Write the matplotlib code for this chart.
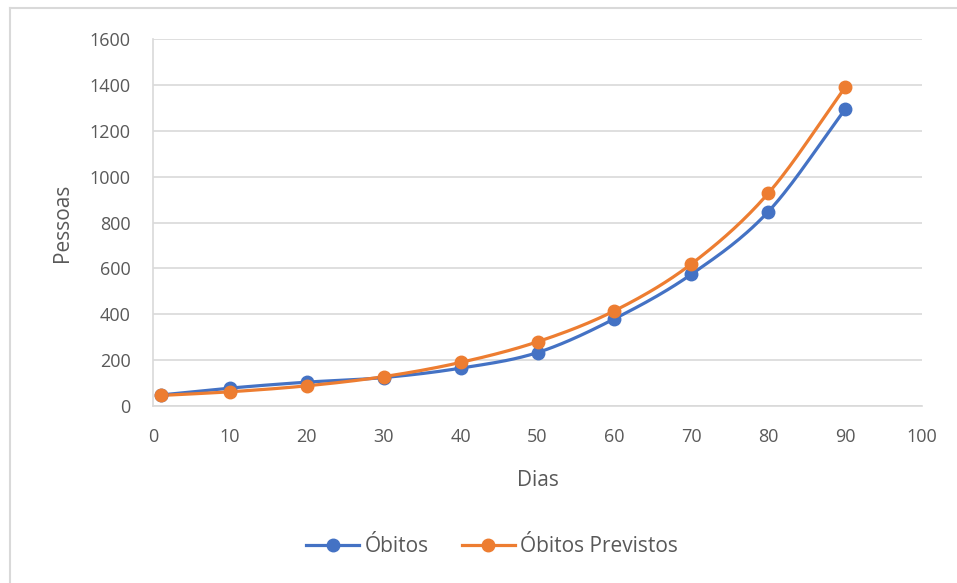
import numpy as np
import matplotlib
matplotlib.use('Agg')
import matplotlib.pyplot as plt
from matplotlib.lines import Line2D

dias = [1, 10, 20, 30, 40, 50, 60, 70, 80, 90]
obitos = [48, 78, 104, 124, 165, 233, 380, 574, 847, 1293]
obitos_previstos = [46, 62, 88, 128, 190, 280, 415, 619, 927, 1389]

x_ticks = list(range(0, 101, 10))
y_ticks = list(range(0, 1601, 200))

BLUE = '#4472C4'
ORANGE = '#ED7D31'
GRID = '#D9D9D9'
TEXT = '#595959'

plt.rcParams['font.family'] = ['Open Sans', 'DejaVu Sans']


def smooth(x, y, n=30):
    # Catmull-Rom style curve through the points, like a spreadsheet "smoothed line"
    x = np.asarray(x, float)
    y = np.asarray(y, float)
    px = np.concatenate([[2 * x[0] - x[1]], x, [2 * x[-1] - x[-2]]])
    py = np.concatenate([[2 * y[0] - y[1]], y, [2 * y[-1] - y[-2]]])
    xs, ys = [], []
    t = np.linspace(0, 1, n)
    for i in range(1, len(px) - 2):
        for arr, out in ((px, xs), (py, ys)):
            p0, p1, p2, p3 = arr[i - 1], arr[i], arr[i + 1], arr[i + 2]
            seg = 0.5 * ((2 * p1) + (-p0 + p2) * t + (2 * p0 - 5 * p1 + 4 * p2 - p3) * t ** 2
                         + (-p0 + 3 * p1 - 3 * p2 + p3) * t ** 3)
            out.extend(seg)
    return np.array(xs), np.array(ys)


fig = plt.figure(figsize=(9.57, 5.83), dpi=100)
ax = fig.add_axes([153 / 957, 1 - 406 / 583, (922 - 153) / 957, (406 - 39) / 583])

for ys, color in ((obitos, BLUE), (obitos_previstos, ORANGE)):
    sx, sy = smooth(dias, ys)
    ax.plot(sx, sy, color=color, lw=2.3, solid_capstyle='round', zorder=3)
    ax.plot(dias, ys, 'o', color=color, ms=9, zorder=4)

ax.set_xlim(0, 100)
ax.set_ylim(0, 1600)
ax.set_xticks(x_ticks)
ax.set_yticks(y_ticks)
ax.tick_params(length=0, labelsize=13, colors=TEXT)
ax.tick_params(axis='x', pad=16)
ax.tick_params(axis='y', pad=16)
ax.grid(axis='y', color=GRID, lw=1.2)
ax.set_axisbelow(True)
for side in ('top', 'right'):
    ax.spines[side].set_visible(False)
for side in ('left', 'bottom'):
    ax.spines[side].set_color(GRID)
    ax.spines[side].set_linewidth(1.2)

ax.set_xlabel('Dias', fontsize=15, color=TEXT, labelpad=17)
ax.set_ylabel('Pessoas', fontsize=15, color=TEXT, labelpad=12)

handles = [Line2D([], [], color=BLUE, lw=2.3, marker='o', ms=9),
           Line2D([], [], color=ORANGE, lw=2.3, marker='o', ms=9)]
fig.legend(handles, ['Óbitos', 'Óbitos Previstos'], loc='center',
           bbox_to_anchor=(492 / 957, 1 - 547 / 583), ncol=2, frameon=False,
           fontsize=15, labelcolor=TEXT, handlelength=2.55, handletextpad=0.25,
           columnspacing=1.6)

# chart area border
fig.add_artist(Line2D([10 / 957, 10 / 957], [0, 1 - 8 / 583], color='#D9D9D9', lw=1.5,
                      transform=fig.transFigure))
fig.add_artist(Line2D([10 / 957, 1], [1 - 8 / 583, 1 - 8 / 583], color='#D9D9D9', lw=1.5,
                      transform=fig.transFigure))

fig.savefig('out.png', dpi=100)
